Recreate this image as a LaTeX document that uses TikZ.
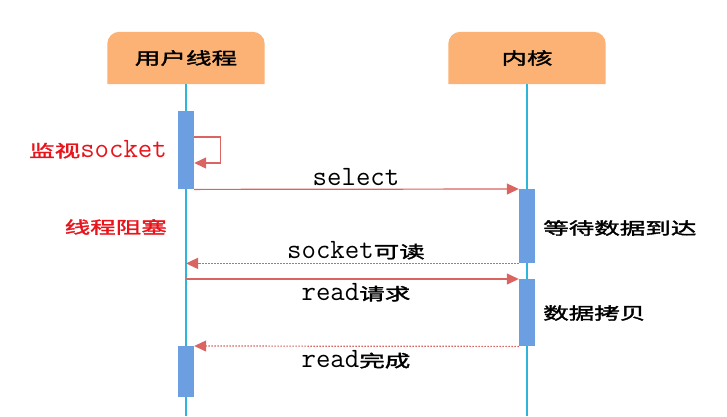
\documentclass[tikz,border=0pt]{standalone}
\usepackage{fontspec}
\usetikzlibrary{arrows.meta,backgrounds}
\newfontfamily\cjk[FakeStretch=1.52,FakeBold=2]{Noto Sans CJK SC}
\definecolor{hdr}{HTML}{FBB274}
\definecolor{actblue}{HTML}{6B9FE1}
\definecolor{lifecyan}{HTML}{2DB5DA}
\definecolor{msgred}{HTML}{D96461}
\definecolor{lblred}{HTML}{E8141B}
\newcommand{\cj}[1]{{\cjk\fontsize{16.8}{18}\selectfont #1}}
\newcommand{\mn}[1]{{\ttfamily\fontsize{28}{30}\selectfont #1}}
\begin{document}
\begin{tikzpicture}[x=1pt,y=-1pt,
  hdrbox/.style={minimum width=157pt,minimum height=52pt,inner sep=0pt},
  hdrfill/.style={fill=hdr},
  act/.style={fill=actblue,minimum width=16pt,inner sep=0pt,anchor=north},
  life/.style={draw=lifecyan,line width=1.4pt},
  msg/.style={draw=msgred,line width=1.2pt,-{Triangle[length=12pt,width=11pt]}},
  ret/.style={msg,dash pattern=on 1.5pt off 1.5pt},
  lbl/.style={inner sep=0pt}
]
\useasboundingbox (0,0) rectangle (727,416);

% headers
\node[hdrbox] (h1) at (186,58) {\cj{用户线程}};
\node[hdrbox] (h2) at (527,58) {\cj{内核}};
\begin{scope}[on background layer]
  \foreach \h in {h1,h2}{
    \fill[hdrfill] (\h.south west) -- ([yshift=-12pt]\h.north west)
      arc[start angle=180,end angle=90,radius=12pt]
      -- ([xshift=-12pt]\h.north east)
      arc[start angle=90,end angle=0,radius=12pt]
      -- (\h.south east) -- cycle;
  }
\end{scope}

% lifelines
\coordinate (b1) at (186,416);
\coordinate (b2) at (527,416);
\draw[life] (h1.south) -- (b1);
\draw[life] (h2.south) -- (b2);

% activations
\node[act,minimum height=78pt] (a1) at (186,111) {};
\node[act,minimum height=74pt] (k1) at (527,189) {};
\node[act,minimum height=67pt] (k2) at (527,279) {};
\node[act,minimum height=51pt] (a2) at (186,346) {};

% self loop
\draw[msg] ([yshift=-26pt]a1.north east) -- ++(26,0) -- ++(0,26) -- ([yshift=-52pt]a1.north east);

% messages
\draw[msg] (a1.south east) -- (k1.north west);
\draw[ret] (k1.south west) -- (k1.south west -| h1.south);
\draw[msg] (k2.north west -| h1.south) -- (k2.north west);
\draw[ret] (k2.south west) -- (a2.north east);

% message labels
\node[lbl,anchor=base] (lsel) at (356,185) {\mn{select}};
\node[lbl,anchor=base] (lrd) at (356,258) {\mn{socket}\cj{可读}};
\node[lbl,anchor=base] (lreq) at (356,300) {\mn{read}\cj{请求}};
\node[lbl,anchor=base] (ldone) at (356,367) {\mn{read}\cj{完成}};

% side labels
\node[lbl,anchor=base east,text=lblred] (lmon) at (167,157) {\cj{监视}\mn{socket}};
\node[lbl,anchor=east,text=lblred] (lblk) at (167,227) {\cj{线程阻塞}};
\node[lbl,anchor=west] (lwait) at (543,228) {\cj{等待数据到达}};
\node[lbl,anchor=west] (lcopy) at (543,313) {\cj{数据拷贝}};
\end{tikzpicture}
\end{document}
